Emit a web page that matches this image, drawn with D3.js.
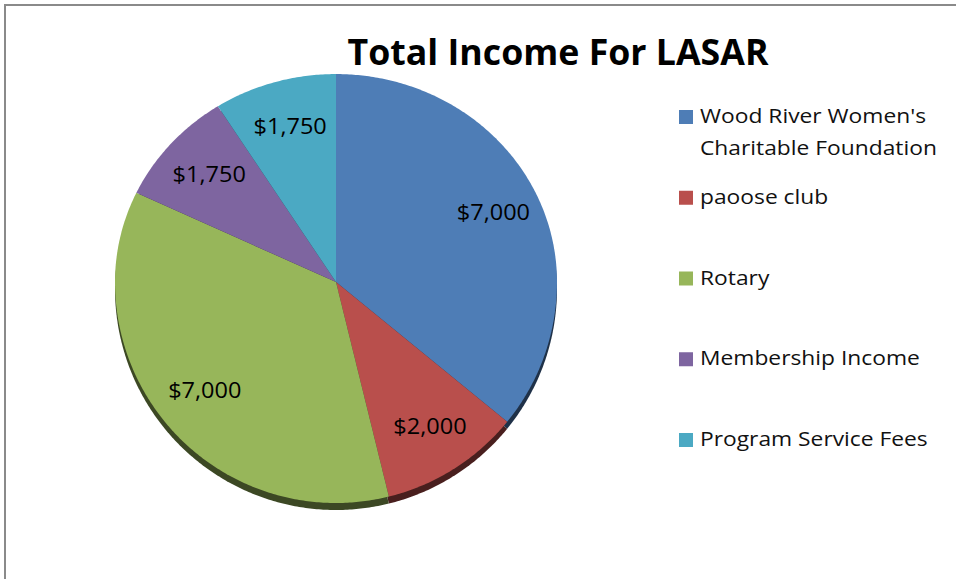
<!DOCTYPE html>
<html>
<head>
<meta charset="utf-8">
<script src="https://cdn.jsdelivr.net/npm/d3@7"></script>
<style>
html,body{margin:0;padding:0;background:#fff;}
svg{display:block;}
text{font-family:"Open Sans","Noto Sans",sans-serif;}
</style>
</head>
<body>
<svg id="chart" width="956" height="579"></svg>
<script>
const title = "Total Income For LASAR";
const categories = ["Wood River Women's Charitable Foundation", "paoose club", "Rotary", "Membership Income", "Program Service Fees"];
const legendLines = [["Wood River Women's", "Charitable Foundation"], ["paoose club"], ["Rotary"], ["Membership Income"], ["Program Service Fees"]];
const values = [7000, 2000, 7000, 1750, 1750];
const colors = ["#4e7db6", "#b94f4c", "#97b65a", "#7e65a0", "#4ba9c3"];

const svg = d3.select("#chart");

// frame
svg.append("rect").attr("x", 5).attr("y", 5).attr("width", 1000).attr("height", 1000)
  .attr("fill", "none").attr("stroke", "#8a8a8a").attr("stroke-width", 2);

// title
svg.append("text").attr("x", 0).attr("y", 0)
  .attr("transform", "translate(558,65) scale(1.02,1)")
  .attr("text-anchor", "middle").attr("font-size", 35).attr("font-weight", "bold")
  .attr("fill", "#000").text(title);

// pie geometry
const cx = 336, cy = 282, R = 221, kTop = 0.941, kBot = 1.0;
const project = (a, r) => {
  const c = Math.cos(a);
  return [cx + r * Math.sin(a), cy - r * c * (c > 0 ? kTop : kBot)];
};
const pie = d3.pie().sort(null).value(d => d)(values);
const line = d3.line();
const slicePath = d => {
  const pts = [[cx, cy]];
  const n = Math.max(2, Math.ceil((d.endAngle - d.startAngle) / 0.01));
  for (let i = 0; i <= n; i++) {
    const a = d.startAngle + (d.endAngle - d.startAngle) * i / n;
    pts.push(project(a, R));
  }
  return line(pts) + "Z";
};

// side / shadow
const gSide = svg.append("g").attr("transform", "translate(0,7)");
gSide.selectAll("path").data(pie).join("path")
  .attr("d", slicePath)
  .attr("fill", (d, i) => d3.color(colors[i]).darker(2.6));

// faces
const gFace = svg.append("g");
gFace.selectAll("path").data(pie).join("path")
  .attr("d", slicePath)
  .attr("fill", (d, i) => colors[i]);

// labels
const fmt = d3.format("$,");
const labelR = 172;
svg.append("g").selectAll("text").data(pie).join("text")
  .attr("transform", d => {
    const [x, y] = project((d.startAngle + d.endAngle) / 2, labelR);
    return `translate(${x + 2},${y + 7}) scale(1.12,1)`;
  })
  .attr("text-anchor", "middle").attr("font-size", 21).attr("fill", "#000")
  .text(d => fmt(d.value));

// legend
const legendY = d3.scalePoint().domain(d3.range(categories.length)).range([123, 446]);
const lg = svg.append("g");
const item = lg.selectAll("g").data(categories).join("g")
  .attr("transform", (d, i) => `translate(679,${legendY(i)})`);
item.append("rect").attr("x", 0).attr("y", -13).attr("width", 14).attr("height", 14)
  .attr("fill", (d, i) => colors[i]);
item.append("text").attr("transform", "translate(21,0) scale(1.14,1)")
  .attr("font-size", 20).attr("fill", "#111")
  .selectAll("tspan").data((d, i) => legendLines[i]).join("tspan")
  .attr("x", 0).attr("dy", (d, j) => j === 0 ? 0 : 32).text(d => d);
</script>
</body>
</html>
